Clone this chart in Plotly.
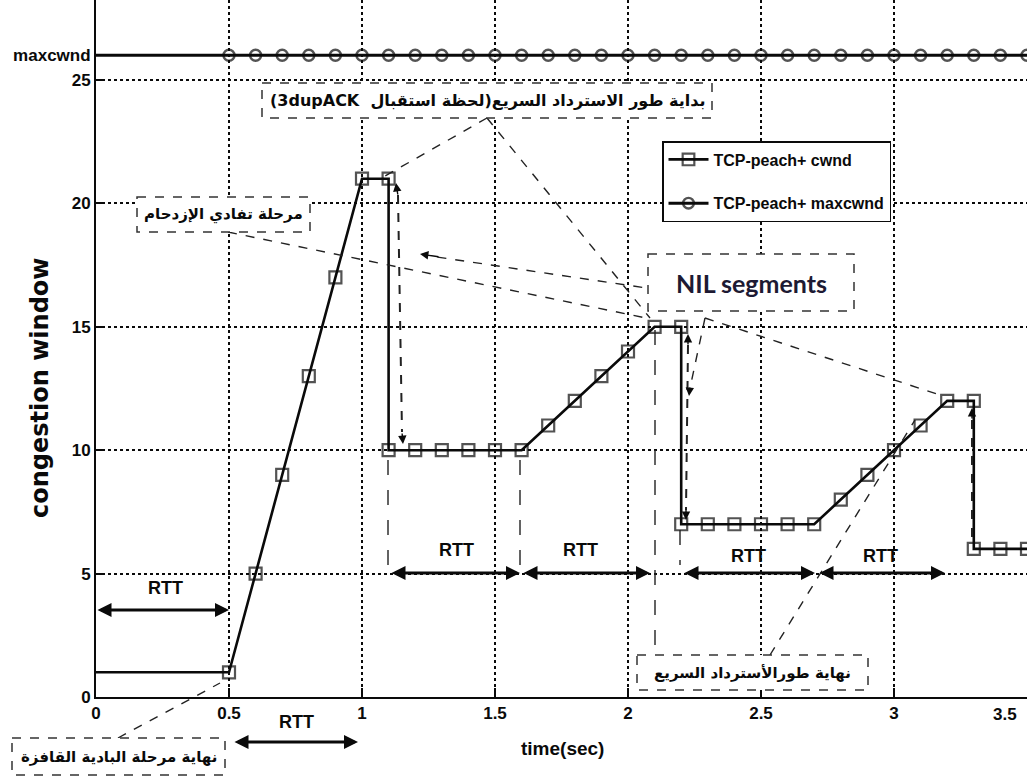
import plotly.graph_objects as go

# ---- data -------------------------------------------------------------
cwnd_t = [0.0, 0.5, 0.6, 0.7, 0.8, 0.9, 1.0, 1.1, 1.1, 1.2, 1.3, 1.4, 1.5, 1.6,
          1.7, 1.8, 1.9, 2.0, 2.1, 2.2, 2.2, 2.3, 2.4, 2.5, 2.6, 2.7, 2.8, 2.9,
          3.0, 3.1, 3.2, 3.3, 3.3, 3.4, 3.5]
cwnd = [1, 1, 5, 9, 13, 17, 21, 21, 10, 10, 10, 10, 10, 10,
        11, 12, 13, 14, 15, 15, 7, 7, 7, 7, 7, 7, 8, 9,
        10, 11, 12, 12, 6, 6, 6]

maxcwnd_t = [0.0, 0.5, 0.6, 0.7, 0.8, 0.9, 1.0, 1.1, 1.2, 1.3, 1.4, 1.5, 1.6,
             1.7, 1.8, 1.9, 2.0, 2.1, 2.2, 2.3, 2.4, 2.5, 2.6, 2.7, 2.8, 2.9,
             3.0, 3.1, 3.2, 3.3, 3.4, 3.5]
maxcwnd = [26] * len(maxcwnd_t)

x_ticks = [0, 0.5, 1, 1.5, 2, 2.5, 3, 3.5]
x_ticktext = ["0", "0.5", "1", "1.5", "2", "2.5", "3", "3.5"]
y_ticks = [0, 5, 10, 15, 20, 25, 26]
y_ticktext = ["0", "5", "10", "15", "20", "25", "maxcwnd"]

# ---- page geometry ------------------------------------------------------
W, H = 1034, 780
ML, MR, MT, MB = 96, 7, 0, 83
PW, PH = W - ML - MR, H - MT - MB
X_MAX = 3.5
PX_PER_Y = 24.68
Y_MAX = PH / PX_PER_Y


def fx(x):
    """page pixel column -> paper fraction"""
    return (x - ML) / PW


def fy(y):
    """page pixel row -> paper fraction"""
    return (H - MB - y) / PH


SANS = "Liberation Sans, Arial, sans-serif"
ARABIC = "DejaVu Sans, Noto Sans, sans-serif"
INK = "#0a0a0a"

fig = go.Figure()

fig.add_trace(go.Scatter(
    x=cwnd_t, y=cwnd, mode="lines+markers", name="TCP-peach+ cwnd",
    legendgroup="a",
    line=dict(color=INK, width=2.6),
    marker=dict(symbol="square-open", size=[0] + [12] * (len(cwnd) - 1),
                color=INK, line=dict(width=2.2)),
))
fig.add_trace(go.Scatter(
    x=maxcwnd_t, y=maxcwnd, mode="lines+markers", name="TCP-peach+ maxcwnd",
    legendgroup="b",
    line=dict(color=INK, width=3),
    marker=dict(symbol="circle-open", size=[0] + [11] * (len(maxcwnd) - 1),
                color=INK, line=dict(width=2.4)),
))

shapes = []
annotations = []


def label(x, y, text, font, angle=0, xanchor="center"):
    annotations.append(dict(x=fx(x), y=fy(y), xref="paper", yref="paper",
                            xanchor=xanchor, yanchor="middle", textangle=angle,
                            text=text, showarrow=False, font=font))


def dashed(p0, p1, dash="dash", width=1.4, color="#222"):
    shapes.append(dict(type="line", xref="paper", yref="paper",
                       x0=fx(p0[0]), y0=fy(p0[1]), x1=fx(p1[0]), y1=fy(p1[1]),
                       line=dict(color=color, width=width, dash=dash), layer="above"))


def head(tip, frm, size=1.2):
    # small arrowhead at tip, pointing away from frm
    annotations.append(dict(x=fx(tip[0]), y=fy(tip[1]), xref="paper", yref="paper",
                            ax=frm[0] - tip[0], ay=frm[1] - tip[1],
                            text="", showarrow=True, arrowhead=2, arrowsize=size,
                            arrowwidth=1.4, arrowcolor=INK))


def box(x0, y0, x1, y1, text, font):
    shapes.append(dict(type="rect", xref="paper", yref="paper",
                       x0=fx(x0), y0=fy(y0), x1=fx(x1), y1=fy(y1),
                       line=dict(color="#333", width=1.5, dash="dash"),
                       fillcolor="white", layer="above"))
    label((x0 + x1) / 2, (y0 + y1) / 2, text, font)


def rtt(xa, xb, yy, lx, ly):
    annotations.append(dict(x=fx(xb), y=fy(yy), xref="paper", yref="paper",
                            ax=xa - xb, ay=0,
                            text="", showarrow=True, arrowhead=2, arrowside="end+start",
                            arrowsize=1.0, arrowwidth=2.8, arrowcolor=INK))
    label(lx, ly, "RTT", dict(family=SANS, size=18, color=INK, weight="bold"))


# leader lines from the callout boxes
dashed((487, 118), (378, 180))
dashed((487, 118), (650, 318))
dashed((228, 232), (646, 318))
dashed((660, 290), (430, 256))
head((420, 254), (440, 257))
dashed((705, 318), (940, 395))
dashed((705, 318), (690, 388))
head((689, 396), (690, 386))
dashed((118, 738), (220, 683))
dashed((770, 655), (915, 420))

# NIL segment markers (vertical dashed double arrows)
dashed((398, 195), (402, 432), width=2)
head((396, 183), (398, 196))
head((403, 444), (402, 432))
dashed((688, 345), (686, 510), width=2)
head((688, 334), (688, 346))
head((686, 520), (686, 508))
dashed((972, 420), (972, 540), width=2)
head((972, 408), (972, 420))

# RTT boundary marks
dashed((388, 460), (388, 567), dash="longdash")
dashed((520, 460), (520, 567), dash="longdash")
dashed((655, 330), (655, 655), dash="longdash")
dashed((680, 530), (680, 565), dash="longdash")

# callout boxes
box(262, 83, 712, 118, "\u202bبداية طور الاسترداد السريع(لحظة استقبال  3dupACK)\u202c",
    dict(family=ARABIC, size=16, color=INK, weight="bold"))
box(137, 197, 310, 232, "مرحلة تفادي الإزدحام",
    dict(family=ARABIC, size=15, color=INK, weight="bold"))
box(648, 254, 854, 311, "NIL segments",
    dict(family="Lato, Open Sans, sans-serif", size=25, color="#1d1a33", weight="bold"))
box(637, 655, 868, 690, "نهاية طورالأسترداد السريع",
    dict(family=ARABIC, size=15, color=INK, weight="bold"))
box(12, 738, 225, 775, "نهاية مرحلة البادية القافزة",
    dict(family=ARABIC, size=15, color=INK, weight="bold"))

# RTT spans
rtt(96, 229, 610, 165, 588)
rtt(233, 358, 742, 296, 722)
rtt(390, 520, 573, 456, 550)
rtt(522, 650, 573, 580, 550)
rtt(683, 815, 573, 748, 556)
rtt(818, 945, 573, 880, 556)

# axis titles
label(40, 388, "congestion window",
      dict(family="DejaVu Sans, Verdana, sans-serif", size=24, color=INK, weight="bold"),
      angle=-90)
label(562, 748, "time(sec)", dict(family=SANS, size=19, color=INK, weight="bold"))

tickfont = dict(family=SANS, size=17, color=INK, weight="bold")

# the last x tick label sits against the right page edge: draw it right-aligned
shown_xtext = x_ticktext[:-1] + [""]
label(1019, 714, x_ticktext[-1], tickfont, xanchor="right")

fig.update_layout(
    width=W, height=H,
    margin=dict(l=ML, r=MR, t=MT, b=MB, autoexpand=False),
    paper_bgcolor="white", plot_bgcolor="white",
    showlegend=True,
    legend=dict(x=fx(662), y=fy(141), xanchor="left", yanchor="top",
                bgcolor="white", bordercolor=INK, borderwidth=1.5,
                font=dict(family=SANS, size=16, color=INK, weight="bold"),
                tracegroupgap=20, itemwidth=40),
    xaxis=dict(range=[0, X_MAX], tickvals=x_ticks, ticktext=shown_xtext,
               showline=True, linecolor=INK, linewidth=2, ticks="inside",
               ticklen=9, tickwidth=1.5, tickcolor=INK, tickfont=tickfont,
               showgrid=True, gridcolor=INK, griddash="dot", gridwidth=1.6,
               zeroline=False, automargin=False, mirror=False),
    yaxis=dict(range=[0, Y_MAX], tickvals=y_ticks, ticktext=y_ticktext,
               showline=True, linecolor=INK, linewidth=2, ticks="inside",
               ticklen=7, tickwidth=1.5, tickcolor=INK, tickfont=tickfont,
               showgrid=True, gridcolor=INK, griddash="dot", gridwidth=1.6,
               zeroline=False, automargin=False),
    shapes=shapes,
    annotations=annotations,
)

fig.write_html("out.html")
